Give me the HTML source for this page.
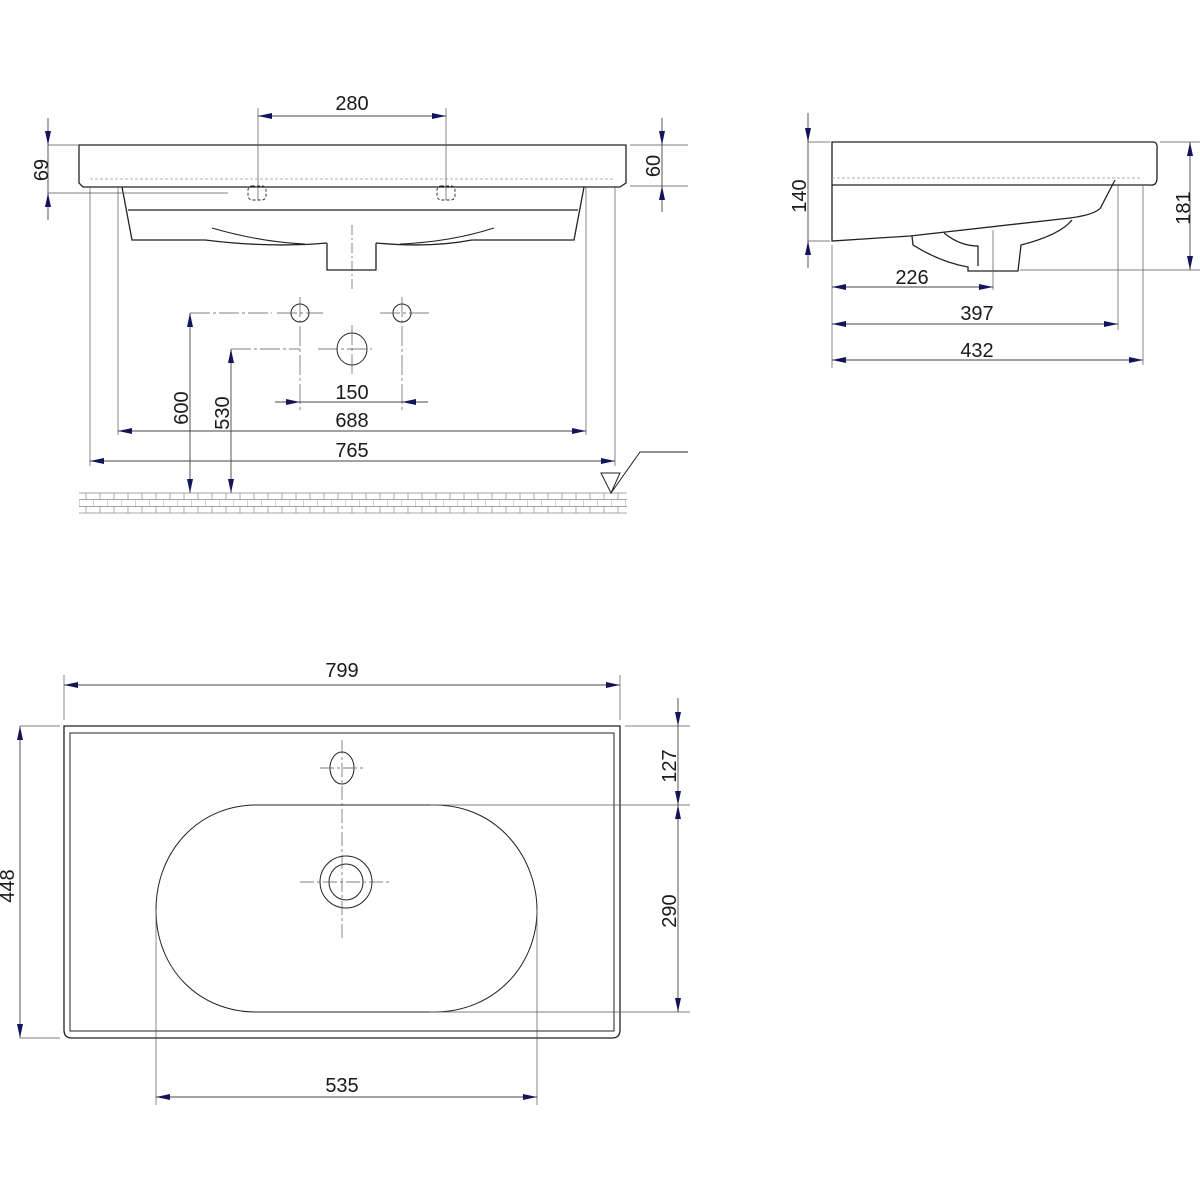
<!DOCTYPE html>
<html><head><meta charset="utf-8"><style>
html,body{margin:0;padding:0;background:#fff}
svg{display:block}
text{font-family:"Liberation Sans",sans-serif;font-size:20px;fill:#1a1a1a}
</style></head><body>
<svg width="1200" height="1200" viewBox="0 0 1200 1200" xmlns="http://www.w3.org/2000/svg">
<defs>
<marker id="a" viewBox="0 0 14 6" refX="14" refY="3" markerWidth="14" markerHeight="6" markerUnits="userSpaceOnUse" orient="auto-start-reverse">
<path d="M0,0 L14,3 L0,6 Z" fill="#14145a"/></marker>
<pattern id="brick" x="79" y="493" width="14" height="20" patternUnits="userSpaceOnUse">
<rect width="14" height="20" fill="#fff"/>
<path d="M0,6.5H14M0,13.5H14M7,0V6.5M0,6.5V13.5M7,13.5V20" stroke="#888" stroke-width="0.7" fill="none"/></pattern>
</defs>
<g fill="none" stroke="#222" stroke-width="1.3">
<!-- FRONT VIEW -->
<path d="M79,145 H626 V183 L620,187 H83 L79,183 Z"/>
<path d="M90,179 H615" stroke="#999" stroke-dasharray="3,2" stroke-width="0.8"/>
<path d="M122,187 L132,240 H205 Q270,248 327,243 M376,243 Q430,248 472,240 H574 L584,187"/>
<path d="M128,210 H578"/>
<path d="M212,228 Q260,242 305,244 M400,244 Q450,242 494,228" stroke-width="1"/>
<path d="M327,243 V270 H376 V243"/>
<rect x="248" y="186" width="18" height="14" rx="4" stroke-dasharray="3,2" stroke-width="0.9"/>
<rect x="437" y="186" width="18" height="14" rx="4" stroke-dasharray="3,2" stroke-width="0.9"/>
<circle cx="300" cy="313" r="9" stroke-width="1"/>
<circle cx="402" cy="313" r="9" stroke-width="1"/>
<ellipse cx="352" cy="349" rx="15" ry="16" stroke-width="1"/>
<rect x="79" y="493" width="548" height="20" fill="url(#brick)" stroke="none"/>
<path d="M79,493H627M79,513H627" stroke="#888" stroke-width="0.8"/>
<path d="M601,473 H620 L611,493 Z M611,493 L640,452 H688" stroke-width="1"/>
<!-- SIDE VIEW -->
<path d="M832,142 H1153 Q1158,142 1157,150 V178 Q1157,186 1150,185 H832 Z"/>
<path d="M832,178 H1140" stroke="#999" stroke-dasharray="3,2" stroke-width="0.8"/>
<path d="M832,185 V241 L910,236 L1070,218 Q1100,214 1102,205 L1115,180"/>
<path d="M912,236 L913,245 Q940,262 968,267 V271 H1018 L1021,245 Q1060,235 1072,220 M944,233 Q960,246 978,246 V266"/>
<!-- TOP VIEW -->
<path d="M64,726 H620 V1030 Q620,1038 612,1038 H72 Q64,1038 64,1030 Z"/>
<rect x="70" y="733" width="544" height="298" stroke-width="1"/>
<ellipse cx="342" cy="768" rx="12" ry="16" stroke-width="1"/>
<path d="M256,805 H434 C500,805 537,860 537,910 C537,965 495,1012 434,1012 H256 C200,1012 156,970 156,910 C156,850 200,805 256,805 Z" stroke-width="1"/>
<ellipse cx="346" cy="882" rx="26" ry="26" stroke-width="1"/>
<ellipse cx="346" cy="882" rx="17" ry="18" stroke-width="1"/>
</g>
<!-- thin extension / center lines -->
<g fill="none" stroke="#555" stroke-width="0.7">
<path d="M258,108V200M446,108V200M48,145H78M48,193H228M630,145H688M630,186H688"/>
<path d="M352,225V290" stroke-dasharray="10,3,2,3"/>
<path d="M300,297V410M402,297V410M190,313H272M277,313H323M380,313H430M231,349H300M318,349H372M352,325V375" stroke-dasharray="20,3,3,3"/>
<path d="M118,186V435M586,186V435M90,186V466M615,186V466"/>
<path d="M808,142H830M808,241H830M1160,142H1200M1020,270H1200M993,230V290M1118,185V330M1143,185V365M832,245V368"/>
<path d="M64,675V720M620,675V720M20,726H60M20,1038H60M625,726H690M430,805H690M430,1012H690M156,910V1105M537,910V1105"/>
<path d="M342,740V940M320,768H364M300,882H392" stroke-dasharray="14,3,3,3"/>
</g>
<!-- dimension lines -->
<g fill="none" stroke="#444" stroke-width="0.9">
<path d="M258,116H446" marker-start="url(#a)" marker-end="url(#a)"/>
<path d="M48,118V145" marker-end="url(#a)"/><path d="M48,220V193" marker-end="url(#a)"/><path d="M48,145V193"/>
<path d="M662,118V145" marker-end="url(#a)"/><path d="M662,212V186" marker-end="url(#a)"/><path d="M662,145V186"/>
<path d="M190,313V493" marker-start="url(#a)" marker-end="url(#a)"/>
<path d="M231,349V493" marker-start="url(#a)" marker-end="url(#a)"/>
<path d="M275,402H300" marker-end="url(#a)"/><path d="M428,402H402" marker-end="url(#a)"/><path d="M300,402H402"/>
<path d="M118,431H586" marker-start="url(#a)" marker-end="url(#a)"/>
<path d="M90,461H615" marker-start="url(#a)" marker-end="url(#a)"/>
<path d="M808,113V142" marker-end="url(#a)"/><path d="M808,268V241" marker-end="url(#a)"/><path d="M808,142V241"/>
<path d="M1190,142V270" marker-start="url(#a)" marker-end="url(#a)"/>
<path d="M832,287H993" marker-start="url(#a)" marker-end="url(#a)"/>
<path d="M832,324H1118" marker-start="url(#a)" marker-end="url(#a)"/>
<path d="M832,360H1143" marker-start="url(#a)" marker-end="url(#a)"/>
<path d="M64,685H620" marker-start="url(#a)" marker-end="url(#a)"/>
<path d="M20,726V1038" marker-start="url(#a)" marker-end="url(#a)"/>
<path d="M678,698V726" marker-end="url(#a)"/><path d="M678,726V805" marker-end="url(#a)"/>
<path d="M678,805V1012" marker-start="url(#a)" marker-end="url(#a)"/>
<path d="M156,1097H537" marker-start="url(#a)" marker-end="url(#a)"/>
</g>
<g>
<text x="352" y="110" text-anchor="middle">280</text>
<text transform="translate(48,170) rotate(-90)" text-anchor="middle">69</text>
<text transform="translate(660,166) rotate(-90)" text-anchor="middle">60</text>
<text x="352" y="399" text-anchor="middle">150</text>
<text x="352" y="427" text-anchor="middle">688</text>
<text x="352" y="457" text-anchor="middle">765</text>
<text transform="translate(188,408) rotate(-90)" text-anchor="middle">600</text>
<text transform="translate(229,413) rotate(-90)" text-anchor="middle">530</text>
<text transform="translate(806,196) rotate(-90)" text-anchor="middle">140</text>
<text transform="translate(1190,208) rotate(-90)" text-anchor="middle">181</text>
<text x="912" y="284" text-anchor="middle">226</text>
<text x="977" y="320" text-anchor="middle">397</text>
<text x="977" y="357" text-anchor="middle">432</text>
<text x="342" y="677" text-anchor="middle">799</text>
<text transform="translate(14,886) rotate(-90)" text-anchor="middle">448</text>
<text transform="translate(676,766) rotate(-90)" text-anchor="middle">127</text>
<text transform="translate(676,911) rotate(-90)" text-anchor="middle">290</text>
<text x="342" y="1092" text-anchor="middle">535</text>
</g>
</svg>
</body></html>
